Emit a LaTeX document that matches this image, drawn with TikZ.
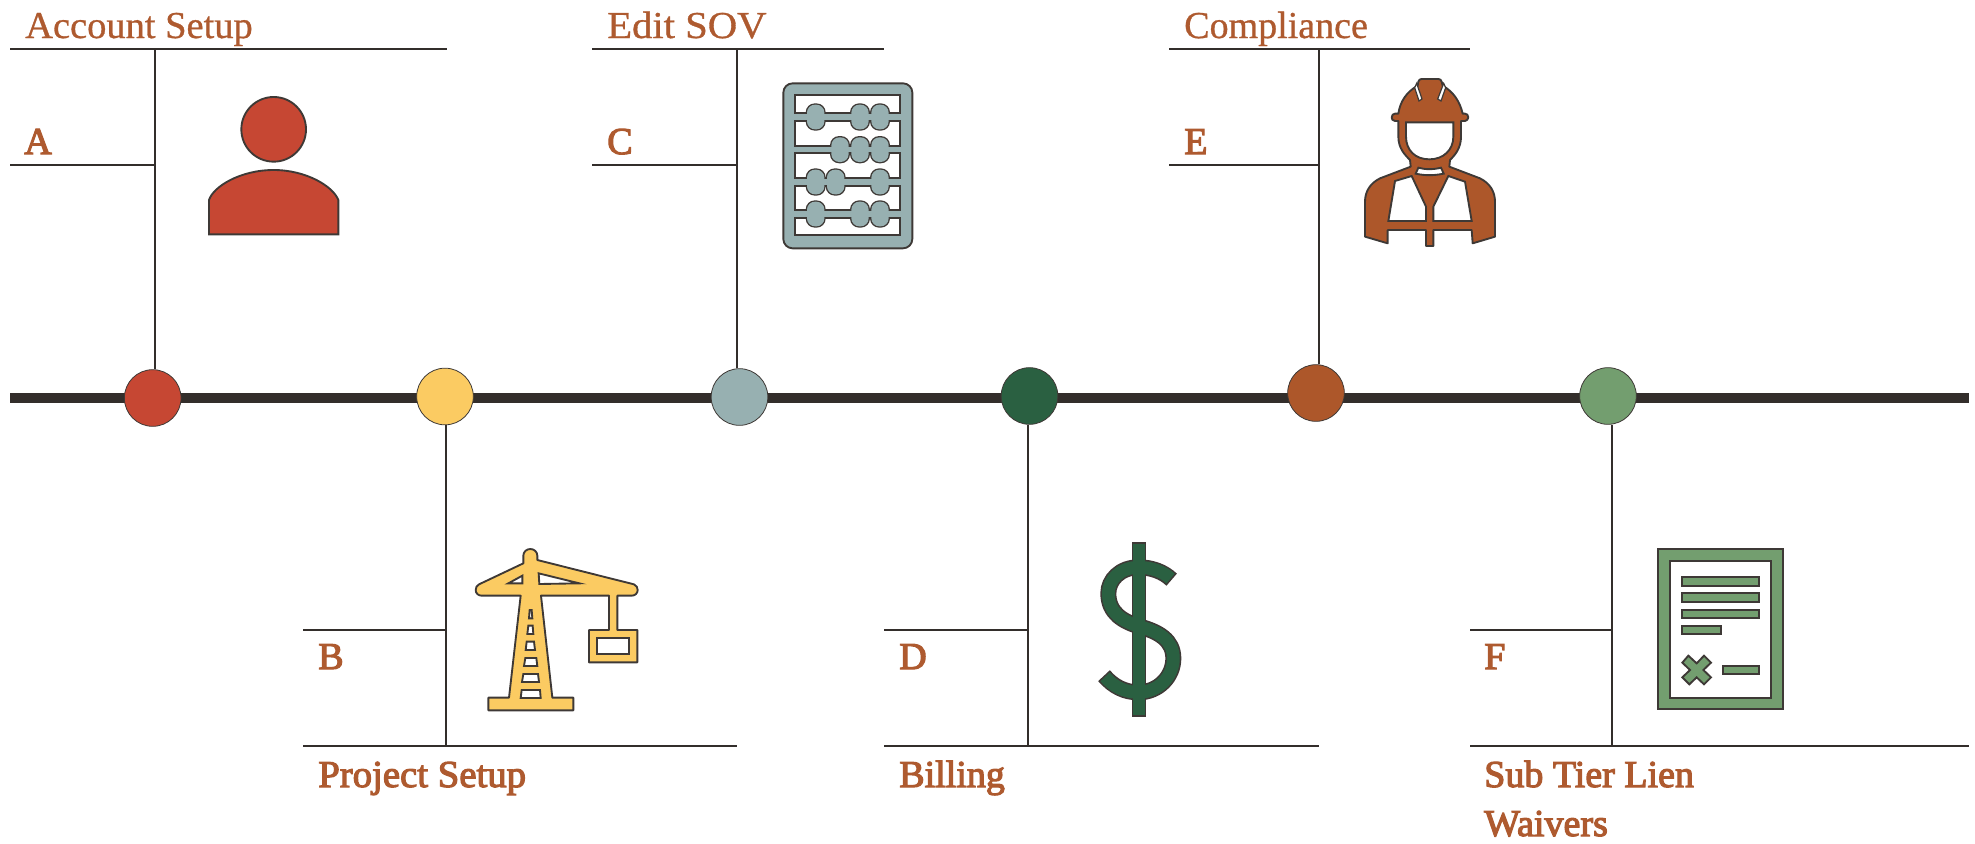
\documentclass[tikz,border=0pt]{standalone}
\usepackage{fontspec}
\setmainfont{Liberation Serif}[FakeBold=0.8]
\newfontfamily\boldish[FakeBold=3]{Liberation Serif}
\definecolor{ink}{HTML}{332E2B}
\definecolor{iconink}{HTML}{3E3936}
\definecolor{txt}{HTML}{AE5A2F}
\definecolor{cred}{HTML}{C64733}
\definecolor{cyel}{HTML}{FBCB62}
\definecolor{cteal}{HTML}{97B0B1}
\definecolor{cgrn}{HTML}{2A6041}
\definecolor{cbrn}{HTML}{AD572A}
\definecolor{csag}{HTML}{739E6F}
\tikzset{
  spine/.style={draw=ink,line width=7.4pt},
  rule/.style={draw=ink,line width=2.1pt},
  dot/.style={circle,draw=iconink,line width=0.6pt,minimum size=42.5pt,inner sep=0pt},
  lab/.style={anchor=base west,inner sep=0pt,text=txt,font=\fontsize{28.5}{36.75}\selectfont},
  labb/.style={anchor=base west,inner sep=0pt,text=txt,font=\fontsize{28.5}{36.75}\selectfont\boldish},
  icon/.style={draw=iconink,line width=1.4pt,line join=miter},
  zoomed/.style={x=0.25pt,y=-0.25pt},
}
\begin{document}
\begin{tikzpicture}[x=0.75pt,y=-0.75pt]
\useasboundingbox (0,0) rectangle (1975,843);
% spine
\coordinate (L) at (10,398);
\coordinate (R) at (1969,398);
\draw[spine] (L) -- (R);
% rails
\coordinate (tA1) at (10,49); \coordinate (tA2) at (447,49); \coordinate (sA) at (155,49); \coordinate (mA1) at (10,165);
\coordinate (tC1) at (592,49); \coordinate (tC2) at (884,49); \coordinate (sC) at (737,49); \coordinate (mC1) at (592,165);
\coordinate (tE1) at (1169,49); \coordinate (tE2) at (1470,49); \coordinate (sE) at (1319,49); \coordinate (mE1) at (1169,165);
\coordinate (bB1) at (303,746); \coordinate (bB2) at (737,746); \coordinate (sB) at (446,746); \coordinate (mB1) at (303,630);
\coordinate (bD1) at (884,746); \coordinate (bD2) at (1319,746); \coordinate (sD) at (1028,746); \coordinate (mD1) at (884,630);
\coordinate (bF1) at (1470,746); \coordinate (bF2) at (1969,746); \coordinate (sF) at (1612,746); \coordinate (mF1) at (1470,630);
% circles
\node[dot,fill=cred] (cA) at (152.7,398) {};
\node[dot,fill=cyel] (cB) at (445,396.5) {};
\node[dot,fill=cteal] (cC) at (739.5,397) {};
\node[dot,fill=cgrn] (cD) at (1029.5,396) {};
\node[dot,fill=cbrn] (cE) at (1316,393) {};
\node[dot,fill=csag] (cF) at (1608,396) {};
\draw[rule] (tA1) -- (tA2);
\draw[rule] (tC1) -- (tC2);
\draw[rule] (tE1) -- (tE2);
\draw[rule] (bB1) -- (bB2);
\draw[rule] (bD1) -- (bD2);
\draw[rule] (bF1) -- (bF2);
\draw[rule] (mA1) -- (mA1 -| sA);
\draw[rule] (mC1) -- (mC1 -| sC);
\draw[rule] (mE1) -- (mE1 -| sE);
\draw[rule] (mB1) -- (mB1 -| sB);
\draw[rule] (mD1) -- (mD1 -| sD);
\draw[rule] (mF1) -- (mF1 -| sF);
\draw[rule] (sA) -- (sA |- cA.north);
\draw[rule] (sC) -- (sC |- cC.north);
\draw[rule] (sE) -- (sE |- cE.north);
\draw[rule] (sB) -- (sB |- cB.south);
\draw[rule] (sD) -- (sD |- cD.south);
\draw[rule] (sF) -- (sF |- cF.south);
% labels
\node[lab] (n1) at (25,38) {\scalebox{1.012}[1]{Account Setup}};
\node[labb] (n2) at (24,154) {A};
\node[lab] (n3) at (607,38) {\scalebox{1.07}[1]{Edit SOV}};
\node[labb] (n4) at (607,154) {C};
\node[lab] (n5) at (1184,38) {Compliance};
\node[labb] (n6) at (1184,154) {E};
\node[labb] (n7) at (318,669) {B};
\node[labb] (n8) at (899,669) {D};
\node[labb] (n9) at (1484,669) {F};
\node[labb] (n10) at (318,787) {\scalebox{1.02}[1]{Project Setup}};
\node[labb] (n11) at (899,787) {Billing};
\node[labb] (n12) at (1484,787) {Sub Tier Lien};
\node[labb] (n13) at (1484,836) {Waivers};
% person
\begin{scope}[zoomed]
\draw[icon,fill=cred] (821,388) circle [radius=97];
\draw[icon,fill=cred] (627,703) -- (627,600) .. controls (640,560) and (720,510) .. (821,510) .. controls (920,510) and (1000,560) .. (1015,600) -- (1015,703) -- cycle;
\end{scope}
% abacus
\begin{scope}[shift={(760,70)},zoomed]
\draw[icon,fill=cteal,rounded corners=7pt] (70,40) rectangle (457,535);
\foreach \a/\b in {75/130,153/228,250/325,347/420,443/495}
  \draw[icon,fill=white] (106,\a) rectangle (420,\b);
\foreach \y/\p/\q/\r in {141/167/300/360,239/240/300/360,336/167/227/360,432/167/300/360}{
  \foreach \c in {\p,\q,\r}
    \draw[icon,fill=cteal,rounded corners=6pt] (\c-27,\y-38) rectangle (\c+27,\y+38);
  \fill[cteal] (104,\y-8) rectangle (422,\y+8);
  \foreach \c in {\p,\q,\r}
    \fill[cteal,rounded corners=6pt] (\c-26,\y-37) rectangle (\c+26,\y+37);
}
\end{scope}
% worker
\begin{scope}[shift={(1350,65)},zoomed]
\draw[icon,fill=cbrn,line join=round] (135,168) .. controls (128,168) and (125,162) .. (125,157) .. controls (125,150) and (130,146) .. (135,146) -- (145,146) .. controls (150,110) and (170,80) .. (203,62) -- (205,50) .. controls (206,45) and (210,42) .. (215,42) -- (265,42) .. controls (270,42) and (274,45) .. (275,50) -- (278,62) .. controls (310,80) and (330,110) .. (338,146) -- (345,146) .. controls (350,146) and (355,150) .. (355,157) .. controls (355,162) and (350,168) .. (345,168) -- (333,168) -- (333,215) .. controls (333,250) and (315,270) .. (300,285) -- (298,305) -- (390,340) .. controls (420,355) and (435,380) .. (435,410) -- (435,515) -- (368,535) -- (365,495) -- (250,495) -- (250,543) -- (228,543) -- (228,495) -- (113,495) -- (113,535) -- (45,515) -- (45,410) .. controls (45,380) and (60,355) .. (90,340) -- (182,305) -- (180,285) .. controls (165,270) and (145,250) .. (145,215) -- (145,168) -- cycle;
\draw[icon,fill=white] (168,172) -- (310,172) -- (310,215) .. controls (310,255) and (280,283) .. (238,283) .. controls (195,283) and (168,255) .. (168,215) -- cycle;
\draw[icon,fill=white] (205,308) .. controls (225,314) and (250,314) .. (273,308) -- (281,326) .. controls (250,332) and (225,332) .. (197,326) -- cycle;
\draw[icon,fill=white] (135,348) -- (185,333) -- (228,425) -- (228,468) -- (115,468) -- cycle;
\draw[icon,fill=white] (295,333) -- (345,350) -- (365,468) -- (250,468) -- (250,425) -- cycle;
\draw[icon,fill=white,line width=0.9pt] (200,55) -- (194,68) -- (207,108) -- (216,102) -- cycle;
\draw[icon,fill=white,line width=0.9pt] (281,55) -- (287,68) -- (273,108) -- (263,102) -- cycle;
\end{scope}
% crane
\begin{scope}[shift={(460,535)},zoomed]
\draw[icon,fill=cyel,line join=round] (190,85) -- (190,62) .. controls (190,50) and (200,42) .. (211,42) .. controls (222,42) and (232,50) .. (232,62) -- (232,75) -- (522,148) .. controls (530,152) and (533,158) .. (533,165) .. controls (533,175) and (525,182) .. (515,182) -- (472,182) -- (472,285) -- (532,285) -- (532,382) -- (387,382) -- (387,285) -- (447,285) -- (447,182) -- (243,182) -- (277,488) -- (340,488) -- (340,526) -- (85,526) -- (85,488) -- (147,488) -- (182,182) -- (65,182) .. controls (55,182) and (47,175) .. (47,165) .. controls (47,158) and (50,152) .. (57,148) -- cycle;
\draw[icon,fill=white] (410,308) rectangle (508,357);
\draw[icon,fill=white] (145,145) -- (187,122) -- (187,145) -- cycle;
\draw[icon,fill=white] (236,115) -- (358,145) -- (238,147) -- cycle;
\foreach \a/\b/\c/\d/\e/\f in {209/215/217/207/225/250,205/218/220/202/272/297,200/222/225/197/320/345,196/229/232/192/369/393,190/234/237/186/417/441,185/240/242/182/465/489}
  \draw[icon,fill=white] (\a,\e) -- (\b,\e) -- (\c,\f) -- (\d,\f) -- cycle;
\end{scope}
% dollar
\begin{scope}[shift={(1080,530)},zoomed]
\def\spath{(275,149) .. controls (250,125) and (215,112) .. (175,112) .. controls (120,112) and (85,150) .. (85,190) .. controls (85,250) and (130,275) .. (180,290) .. controls (235,305) and (280,330) .. (280,385) .. controls (280,440) and (235,487) .. (175,487) .. controls (135,487) and (100,470) .. (72,437)}
\draw[iconink,line width=12pt] \spath;
\fill[iconink] (155,36) rectangle (199,560);
\draw[cgrn,line width=9.6pt,shorten >=1.2pt,shorten <=1.2pt] \spath;
\fill[cgrn] (160,41) rectangle (194,555);
\end{scope}
% document
\begin{scope}[shift={(1640,535)},zoomed]
\draw[icon,fill=csag] (55,43) rectangle (428,523);
\draw[icon,fill=white] (91,78) rectangle (392,488);
\foreach \a/\b/\c/\d in {127/127/357/152,127/175/357/200,127/224/357/249,127/272/244/297,248/393/357/417}
  \draw[icon,fill=csag] (\a,\b) rectangle (\c,\d);
\draw[icon,fill=csag] (145,362) -- (170,385) -- (192,362) -- (213,383) -- (190,405) -- (213,427) -- (192,448) -- (170,427) -- (148,448) -- (127,427) -- (150,405) -- (127,383) -- cycle;
\end{scope}
\end{tikzpicture}
\end{document}
